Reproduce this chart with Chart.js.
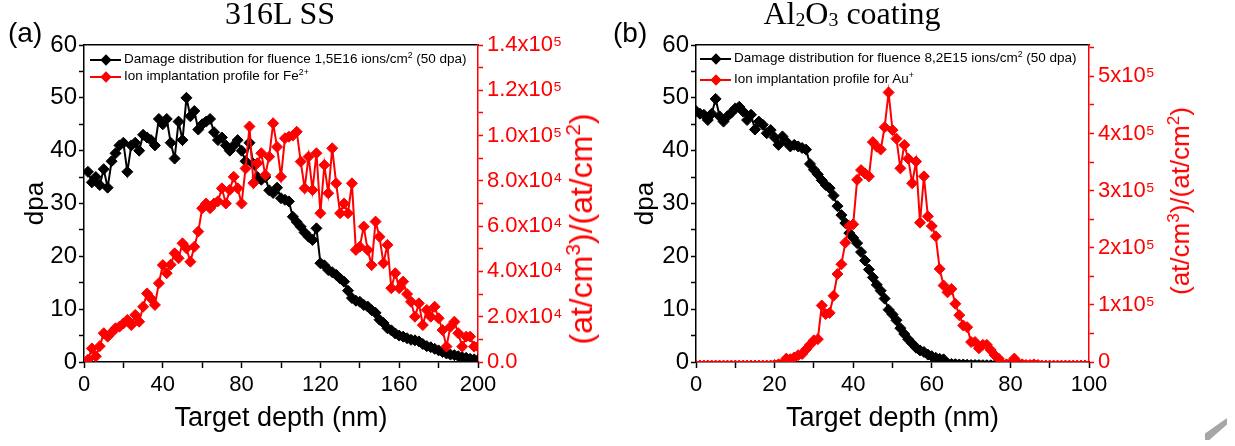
<!DOCTYPE html>
<html lang="en">
<head>
<meta charset="UTF-8">
<title>Damage distribution and ion implantation profiles</title>
<script src="https://cdn.jsdelivr.net/npm/chart.js"></script>
<style>
    html, body{
        margin: 0;
        padding: 0;
        background: #fff;
    }
    body{
        position: relative;
        width: 1235px;
        height: 446px;
        overflow: hidden;
        font-family: Arial, "Liberation Sans", sans-serif;
    }
    canvas{
        position: absolute;
        top: 0;
    }
    #chartA{ left: 0; }
    #chartB{ left: 610px; }
    .lbl{
        position: absolute;
        white-space: nowrap;
        line-height: 1;
    }
    .titel{
        font-family: "Liberation Serif", "Times New Roman", serif;
        font-size: 32px;
        transform: translateX(-50%);
        top: -3px;
    }
    .tag{
        font-size: 28px;
        top: 19px;
    }
    .rtitel{
        color: #ff0000;
        transform: translate(-50%, -50%) rotate(-90deg);
    }
    sup{
        font-size: 0.65em;
        vertical-align: 0.6em;
        line-height: 0;
    }
    sub{
        font-size: 0.62em;
        vertical-align: -0.1em;
        line-height: 0;
    }
    .leg{
        position: absolute;
        height: 16px;
        white-space: nowrap;
        font-size: 13.5px;
        line-height: 16px;
    }
    .leg .linie{
        position: absolute;
        left: 0;
        top: 7px;
        width: 31px;
        height: 2px;
    }
    .leg .linie::after{
        content: '';
        position: absolute;
        left: 11.5px;
        top: -3px;
        width: 8px;
        height: 8px;
        background: inherit;
        transform: rotate(45deg);
    }
    .leg .txt{
        position: absolute;
        left: 34px;
        top: -1px;
    }
    .schwarz{ background: #000; }
    .rot{ background: #ff0000; }
    #ecke{
        position: absolute;
        left: 1205px;
        top: 418px;
        width: 22px;
        height: 22px;
        background: #a6a6a6;
        clip-path: polygon(100% 0, 100% 30%, 20% 100%, 0 100%, 0 70%);
    }
</style>
</head>
<body>
    <canvas id="chartA" width="600" height="446"></canvas>
    <canvas id="chartB" width="625" height="446"></canvas>

    <div class="lbl tag" style="left:8px;">(a)</div>
    <div class="lbl titel" style="left:280px;">316L SS</div>
    <div class="lbl tag" style="left:613px;">(b)</div>
    <div class="lbl titel" style="left:852px;">Al<sub>2</sub>O<sub>3</sub> coating</div>

    <div class="lbl rtitel" style="left:581px; top:229px; font-size:32px;">(at/cm<sup>3</sup>)/(at/cm<sup>2</sup>)</div>
    <div class="lbl rtitel" style="left:1180px; top:201px; font-size:26px;">(at/cm<sup>3</sup>)/(at/cm<sup>2</sup>)</div>

    <div class="leg" style="left:90px; top:52px;"><span class="linie schwarz"></span><span class="txt">Damage distribution for fluence 1,5E16 ions/cm<sup>2</sup> (50 dpa)</span></div>
    <div class="leg" style="left:90px; top:69px;"><span class="linie rot"></span><span class="txt">Ion implantation profile for Fe<sup>2+</sup></span></div>
    <div class="leg" style="left:700px; top:51px;"><span class="linie schwarz"></span><span class="txt">Damage distribution for fluence 8,2E15 ions/cm<sup>2</sup> (50 dpa)</span></div>
    <div class="leg" style="left:700px; top:72px;"><span class="linie rot"></span><span class="txt">Ion implantation profile for Au<sup>+</sup></span></div>

    <div id="ecke"></div>

<script>
// (a) 316L SS
const depthA = [2, 4, 6, 8, 10, 12, 14, 16, 18, 20, 22, 24, 26, 28, 30, 32, 34, 36, 38, 40,
    42, 44, 46, 48, 50, 52, 54, 56, 58, 60, 62, 64, 66, 68, 70, 72, 74, 76, 78, 80,
    82, 84, 86, 88, 90, 92, 94, 96, 98, 100, 102, 104, 106, 108, 110, 112, 114, 116, 118, 120,
    122, 124, 126, 128, 130, 132, 134, 136, 138, 140, 142, 144, 146, 148, 150, 152, 154, 156, 158, 160,
    162, 164, 166, 168, 170, 172, 174, 176, 178, 180, 182, 184, 186, 188, 190, 192, 194, 196, 198, 200];
const dpaA = [36.0, 34.0, 35.0, 33.5, 36.5, 33.0, 38.0, 39.5, 41.0, 41.5,
    36.0, 41.0, 41.5, 40.0, 43.0, 42.5, 42.0, 41.0, 46.0, 45.0,
    46.0, 41.5, 38.5, 45.5, 42.0, 50.0, 46.5, 47.5, 44.0, 45.0,
    45.5, 46.0, 43.5, 42.0, 42.5, 41.0, 40.0, 41.0, 42.0, 40.0,
    38.0, 41.5, 37.5, 35.0, 34.5, 35.0, 32.5, 32.0, 33.0, 31.0,
    30.7, 30.4, 27.5, 26.5, 25.6, 24.5, 23.7, 23.1, 25.3, 18.7,
    18.3, 17.4, 17.0, 16.5, 15.8, 15.2, 13.5, 12.1, 11.6, 11.4,
    10.8, 10.5, 9.8, 9.3, 8.0, 7.4, 6.4, 6.0, 5.4, 5.0,
    4.8, 4.5, 4.2, 4.1, 3.9, 3.4, 3.0, 2.8, 2.5, 2.2,
    1.9, 1.6, 1.4, 1.3, 1.1, 0.9, 0.8, 0.6, 0.5, 0.4];
const implantA = [1000, 6000, 2500, 7000, 12700, 11200, 13000, 14900, 15600, 17000,
    18600, 16300, 20800, 17800, 24400, 30300, 28000, 25200, 34800, 42800,
    39200, 43000, 48000, 45800, 52400, 50200, 44300, 50900, 57600, 67900,
    70000, 67900, 70000, 71000, 76700, 70000, 76000, 81800, 76700, 70000,
    85500, 104000, 79000, 87800, 92200, 82600, 90700, 105400, 95000, 81800,
    98800, 99500, 100000, 101700, 88500, 76700, 90700, 76000, 92200, 65700,
    87000, 74500, 94400, 78900, 65700, 70000, 65700, 78900, 49500, 50900,
    59800, 49500, 42800, 62000, 55300, 43600, 51700, 32600, 39200, 32600,
    35500, 30000, 26600, 20000, 25900, 16300, 23000, 20000, 24400, 19300,
    14100, 6800, 15600, 17800, 12700, 6800, 11200, 11200, 6800, 6800];

// (b) Al2O3 coating
const depthB = [0, 1, 2, 3, 4, 5, 6, 7, 8, 9, 10, 11, 12, 13, 14, 15, 16, 17, 18, 19,
    20, 21, 22, 23, 24, 25, 26, 27, 28, 29, 30, 31, 32, 33, 34, 35, 36, 37, 38, 39,
    40, 41, 42, 43, 44, 45, 46, 47, 48, 49, 50, 51, 52, 53, 54, 55, 56, 57, 58, 59,
    60, 61, 62, 63, 64, 65, 66, 67, 68, 69, 70, 71, 72, 73, 74, 75, 76, 77, 78, 79,
    80, 81, 82, 83, 84, 85, 86, 87, 88, 89, 90, 91, 92, 93, 94, 95, 96, 97, 98, 99, 100];
const dpaB = [47.5, 47.0, 46.8, 45.8, 47.0, 49.8, 46.5, 45.5, 46.5, 47.2,
    48.0, 48.3, 47.4, 45.8, 46.8, 44.0, 45.5, 44.9, 43.3, 43.9,
    42.5, 41.1, 42.7, 41.7, 40.8, 41.1, 40.8, 40.5, 40.2, 37.5,
    36.4, 35.5, 34.4, 33.5, 32.9, 31.5, 29.5, 27.8, 26.3, 24.4,
    23.5, 22.5, 20.8, 19.2, 17.5, 16.0, 14.6, 13.5, 12.0, 9.9,
    9.0, 7.9, 6.4, 5.3, 4.3, 3.5, 2.7, 2.2, 1.9, 1.4,
    1.1, 0.8, 0.6, 0.5, 0.35, 0.3, 0.25, 0.2, 0.2, 0.15,
    0.1, 0.1, 0.08, 0.06, 0.05, 0.04, 0.03, 0.02];
const implantB = [0, 0, 0, 0, 0, 0, 0, 0, 0, 0,
    0, 0, 0, 0, 0, 0, 0, 0, 0, 0,
    1000, 2000, 3000, 6000, 5000, 8000, 12000, 14000, 22000, 30000,
    38000, 40000, 99000, 84000, 86000, 116000, 154000, 171000, 209000, 238000,
    241000, 319000, 336000, 330000, 325000, 385000, 377000, 372000, 411000, 472000,
    406000, 391000, 339000, 380000, 356000, 313000, 351000, 244000, 325000, 255000,
    238000, 220000, 163000, 134000, 122000, 128000, 102000, 82000, 64000, 61000,
    35000, 35000, 24000, 30000, 30000, 21000, 12000, 6000, 2000, 2000,
    3000, 6000, 3000, 2000, 1000, 1000, 2000, 1000, 0, 0,
    0, 0, 0, 0, 0, 0, 0, 0, 0, 0, 0];

// Achsen / Ticks
const xTicksA = [0, 20, 40, 60, 80, 100, 120, 140, 160, 180, 200];
const xLabelsA = ['0', '', '40', '', '80', '', '120', '', '160', '', '200'];
const xTicksB = [0, 10, 20, 30, 40, 50, 60, 70, 80, 90, 100];
const xLabelsB = ['0', '', '20', '', '40', '', '60', '', '80', '', '100'];
const dpaTicks = [0, 5, 10, 15, 20, 25, 30, 35, 40, 45, 50, 55, 60];
const dpaLabels = ['0', '', '10', '', '20', '', '30', '', '40', '', '50', '', '60'];
const rTicksA = [0, 10000, 20000, 30000, 40000, 50000, 60000, 70000, 80000, 90000, 100000, 110000, 120000, 130000, 140000];
const rLabelsA = ['0.0', '', '2.0x10⁴', '', '4.0x10⁴', '', '6.0x10⁴', '', '8.0x10⁴', '', '1.0x10⁵', '', '1.2x10⁵', '', '1.4x10⁵'];
const rTicksB = [0, 50000, 100000, 150000, 200000, 250000, 300000, 350000, 400000, 450000, 500000, 550000];
const rLabelsB = ['0', '', '1x10⁵', '', '2x10⁵', '', '3x10⁵', '', '4x10⁵', '', '5x10⁵', ''];

Chart.defaults.font.family = 'Arial, "Liberation Sans", sans-serif';
Chart.defaults.color = '#000';

const ROT = '#ff0000';

function punkte(tiefe, werte){
    return werte.map((w, i) => ({x: tiefe[i], y: w}));
}

// Marker nahe null sind im Original kleiner
function markerGroesse(max){
    return c => (c.raw && c.raw.y / max < 0.006) ? 2 : 5.5;
}

function diagrammErstellen(id, cfg){
    const ctx = document.getElementById(id).getContext('2d');
    return new Chart(ctx, {
        type: 'line',
        data: {
            datasets: [{
                label: 'implant',
                data: punkte(cfg.tiefe, cfg.implant),
                yAxisID: 'y2',
                borderColor: ROT,
                backgroundColor: ROT,
                borderWidth: 2,
                pointStyle: 'rectRot',
                pointRadius: markerGroesse(cfg.rMax),
                pointBorderWidth: 1,
                order: 0
            }, {
                label: 'dpa',
                data: punkte(cfg.tiefe, cfg.dpa),
                yAxisID: 'y',
                borderColor: '#000',
                backgroundColor: '#000',
                borderWidth: 2,
                pointStyle: 'rectRot',
                pointRadius: markerGroesse(60),
                pointBorderWidth: 1,
                order: 1
            }]
        },
        options: {
            responsive: false,
            animation: false,
            layout: {padding: {top: 45, left: 0, right: 0, bottom: 0}},
            plugins: {legend: {display: false}, tooltip: {enabled: false}},
            scales: {
                x: {
                    type: 'linear',
                    min: 0,
                    max: cfg.xMax,
                    afterBuildTicks: s => { s.ticks = cfg.xTicks.map(v => ({value: v})); },
                    afterFit: s => { s.height = 84; },
                    ticks: {autoSkip: false, maxRotation: 0, padding: 4, font: {size: 22},
                        callback: (v, i) => cfg.xLabels[i]},
                    grid: {drawOnChartArea: false, tickLength: 6, tickWidth: 1.5, color: '#000'},
                    border: {color: '#000', width: 1.5},
                    title: {display: true, text: 'Target depth (nm)', font: {size: 27}, padding: {bottom: 11}}
                },
                xTop: {
                    type: 'linear',
                    axis: 'x',
                    position: 'top',
                    ticks: {display: false},
                    grid: {drawOnChartArea: false, drawTicks: false},
                    border: {color: '#000', width: 1.5},
                    afterFit: s => { s.height = 0; }
                },
                y: {
                    position: 'left',
                    min: 0,
                    max: 60,
                    afterBuildTicks: s => { s.ticks = dpaTicks.map(v => ({value: v})); },
                    afterFit: s => { s.width = cfg.links; },
                    ticks: {autoSkip: false, padding: 2, font: {size: 24},
                        callback: (v, i) => dpaLabels[i]},
                    grid: {drawOnChartArea: false, tickLength: 5, tickWidth: 1.5, color: '#000'},
                    border: {color: '#000', width: 1.5},
                    title: {display: true, text: 'dpa', font: {size: 26}, padding: {top: 20}}
                },
                y2: {
                    position: 'right',
                    min: 0,
                    max: cfg.rMax,
                    afterBuildTicks: s => { s.ticks = cfg.rTicks.map(v => ({value: v})); },
                    afterFit: s => { s.width = cfg.rechts; },
                    ticks: {autoSkip: false, padding: 4, color: ROT, font: {size: 22},
                        callback: (v, i) => cfg.rLabels[i]},
                    grid: {drawOnChartArea: false, tickLength: 5, tickWidth: 1.5, color: ROT},
                    border: {color: ROT, width: 1.5}
                }
            }
        }
    });
}

diagrammErstellen('chartA', {
    tiefe: depthA, dpa: dpaA, implant: implantA,
    xMax: 200, xTicks: xTicksA, xLabels: xLabelsA,
    rMax: 140000, rTicks: rTicksA, rLabels: rLabelsA,
    links: 84, rechts: 122
});

diagrammErstellen('chartB', {
    tiefe: depthB, dpa: dpaB, implant: implantB,
    xMax: 100, xTicks: xTicksB, xLabels: xLabelsB,
    rMax: 555000, rTicks: rTicksB, rLabels: rLabelsB,
    links: 86, rechts: 146
});
</script>
</body>
</html>
